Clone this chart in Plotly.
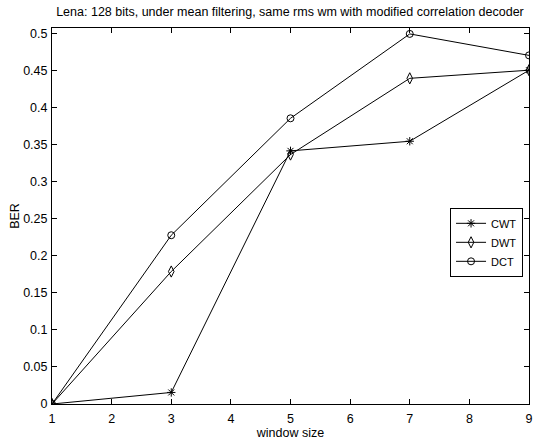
import plotly.graph_objects as go

window_size = [1, 3, 5, 7, 9]
ber_cwt = [0.0, 0.0156, 0.342, 0.355, 0.451]
ber_dwt = [0.0, 0.179, 0.337, 0.44, 0.451]
ber_dct = [0.0, 0.228, 0.386, 0.5, 0.471]

x_ticks = [1, 2, 3, 4, 5, 6, 7, 8, 9]
y_ticks = [0, 0.05, 0.1, 0.15, 0.2, 0.25, 0.3, 0.35, 0.4, 0.45, 0.5]
y_tick_labels = ["0", "0.05", "0.1", "0.15", "0.2", "0.25", "0.3", "0.35", "0.4", "0.45", "0.5"]

series = [
    ("CWT", ber_cwt, "asterisk-open", 7),
    ("DWT", ber_dwt, "diamond-tall-open", 8),
    ("DCT", ber_dct, "circle-open", 7),
]

FONT = "Liberation Sans, Arial, Helvetica"

fig = go.Figure()
for name, vals, sym, size in series:
    fig.add_trace(go.Scatter(
        x=window_size, y=vals, name=name, mode="lines+markers",
        line=dict(color="black", width=1),
        marker=dict(symbol=sym, size=size, color="black",
                    line=dict(color="black", width=1)),
    ))

axis_common = dict(
    showgrid=False, zeroline=False, showline=True, linecolor="black",
    linewidth=1, mirror="ticks", ticks="inside", ticklen=5,
    tickcolor="black", tickfont=dict(family=FONT, size=12.5, color="black"),
)

fig.update_layout(
    width=539, height=443,
    margin=dict(l=52, r=6, t=28, b=36),
    paper_bgcolor="white", plot_bgcolor="white",
    font=dict(family=FONT, size=12.5, color="black"),
    title=dict(text="Lena: 128 bits, under mean filtering, same rms wm with modified correlation decoder",
               x=0.538, xanchor="center", y=1 - 12 / 443, yanchor="middle",
               font=dict(size=12.5, color="black")),
    xaxis=dict(range=[1, 9], tickvals=x_ticks, ticklabelstandoff=3,
               title=dict(text="window size", standoff=2, font=dict(size=12.5)),
               **axis_common),
    yaxis=dict(range=[0, 0.508], tickvals=y_ticks, ticktext=y_tick_labels,
               ticklabelstandoff=1,
               title=dict(text="BER", standoff=0, font=dict(size=12.5)),
               **axis_common),
    legend=dict(x=0.9875, xanchor="right", y=0.43, yanchor="middle",
                bgcolor="white", bordercolor="black", borderwidth=1,
                font=dict(size=11), tracegroupgap=0, itemwidth=30),
    showlegend=True,
)

fig.write_html("out.html")
